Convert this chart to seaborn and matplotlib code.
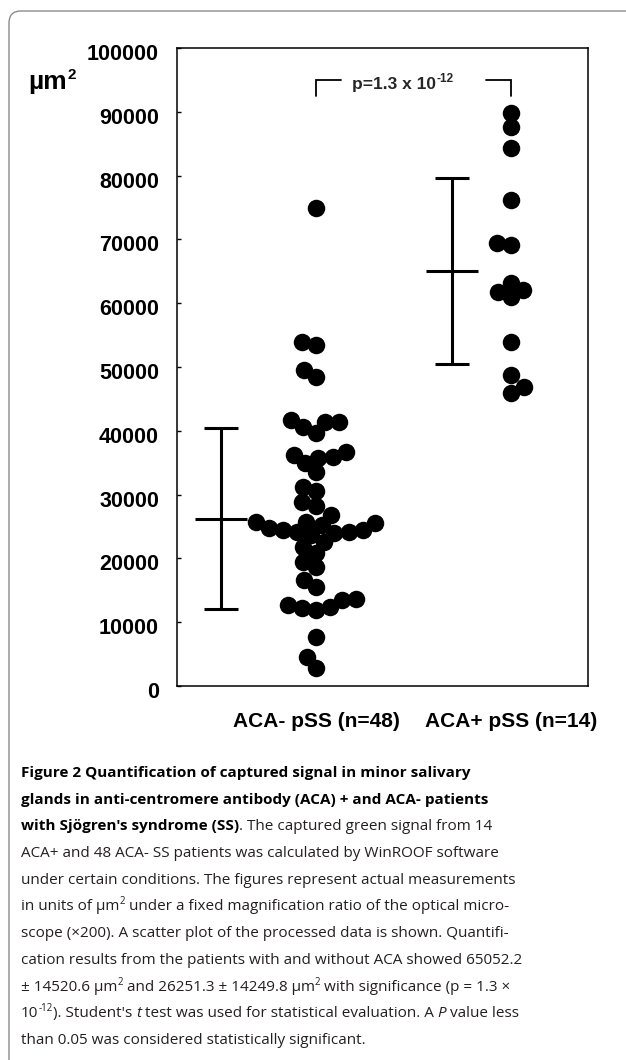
import numpy as np
import pandas as pd
import matplotlib
matplotlib.use("Agg")
import matplotlib.pyplot as plt
import seaborn as sns
from matplotlib.collections import PathCollection
from matplotlib.patches import FancyBboxPatch
from matplotlib.transforms import IdentityTransform, ScaledTranslation

# ---------------- data ----------------
categories = ["ACA- pSS (n=48)", "ACA+ pSS (n=14)"]
aca_neg = [74900, 53900, 53400, 49500, 48400,
           41700, 39700, 41400, 40600, 41400,
           35700, 36700, 35900, 34900, 36200,
           33500, 31200, 28800, 30500, 28200,
           25700, 24500, 26800, 25200, 22600, 25500, 24500,
           25700, 24000, 21800, 24800, 23700, 24100, 24100,
           20800, 18600, 16600, 19400, 15500,
           12700, 12400, 13600, 11900, 12200, 13500,
           7700, 4500, 2800]
aca_pos = [89800, 87600, 84300, 76200, 69400, 69100, 62100,
           63200, 61000, 61800, 53900, 48700, 46900, 45900]
group_mean = [26251.3, 65052.2]
group_sd = [14249.8, 14520.6]
y_ticks = [0, 10000, 20000, 30000, 40000, 50000, 60000, 70000, 80000, 90000, 100000]
y_unit = "\u00b5m"
p_text = "p=1.3 x 10"
p_exp = "-12"

caption_lines = [
    [("Figure 2 Quantification of captured signal in minor salivary", "b")],
    [("glands in anti-centromere antibody (ACA) + and ACA- patients", "b")],
    [("with Sj\u00f6gren's syndrome (SS)", "b"), (". The captured green signal from 14", "r")],
    [("ACA+ and 48 ACA- SS patients was calculated by WinROOF software", "r")],
    [("under certain conditions. The figures represent actual measurements", "r")],
    [("in units of \u00b5m", "r"), ("2", "s"), (" under a fixed magnification ratio of the optical micro-", "r")],
    [("scope (\u00d7200). A scatter plot of the processed data is shown. Quantifi-", "r")],
    [("cation results from the patients with and without ACA showed 65052.2", "r")],
    [("\u00b1 14520.6 \u00b5m", "r"), ("2", "s"), (" and 26251.3 \u00b1 14249.8 \u00b5m", "r"), ("2", "s"),
     (" with significance (p = 1.3 \u00d7", "r")],
    [("10", "r"), ("-12", "s"), ("). Student's ", "r"), ("t", "i"),
     (" test was used for statistical evaluation. A ", "r"), ("P", "i"), (" value less", "r")],
    [("than 0.05 was considered statistically significant.", "r")],
]

# ---------------- figure ----------------
sns.set_theme(style="white")
plt.rcParams["font.family"] = ["Liberation Sans", "DejaVu Sans"]

W, H = 626, 1060
fig = plt.figure(figsize=(W / 100, H / 100), dpi=100)
fig.patch.set_facecolor("white")

# outer rounded frame (open to the right / bottom)
frame = FancyBboxPatch((9, -60), 800, H - 11 + 60,
                       boxstyle="round,pad=0,rounding_size=12",
                       transform=IdentityTransform(), fill=False,
                       edgecolor="#8c8c8c", linewidth=1.0)
fig.add_artist(frame)

ax = fig.add_axes([177 / W, 1 - 686 / H, (588 - 177) / W, (686 - 48) / H])

df = pd.DataFrame({
    "group": [categories[0]] * len(aca_neg) + [categories[1]] * len(aca_pos),
    "value": aca_neg + aca_pos,
})
# swarm packed with a slightly smaller marker, then shown with the full marker
# size so neighbouring dots overlap as in the original figure
pack_size, show_size = 9.8, 12.6
sns.swarmplot(data=df, x="group", y="value", order=categories, color="black",
              size=pack_size, linewidth=0, ax=ax, warn_thresh=1)
ax.set_xlim(-0.713, 1.395)
ax.set_ylim(0, 100000)
fig.canvas.draw()
for coll in ax.collections:
    if isinstance(coll, PathCollection):
        if "draw" in coll.__dict__:
            del coll.draw
        coll.set_sizes([show_size ** 2])

eb_offsets = [-0.487, -0.303]
for i, (m, s) in enumerate(zip(group_mean, group_sd)):
    ax.errorbar(i + eb_offsets[i], m, yerr=s, fmt="_", color="black",
                ms=37, mew=2.2, elinewidth=2.2, capsize=12.2, capthick=2.2)

ax.set_xlim(-0.713, 1.395)
ax.set_ylim(0, 100000)
ax.set_xlabel("")
ax.set_ylabel("")
for sp in ax.spines.values():
    sp.set_visible(True)
    sp.set_color("black")
    sp.set_linewidth(1.1)

ax.set_yticks(y_ticks)
ax.set_yticklabels([str(v) for v in y_ticks], fontsize=15.5, fontweight="bold")
ax.tick_params(axis="y", direction="in", length=3, width=1, pad=13, colors="black", left=True)
shift = ScaledTranslation(0, -4 / 100, fig.dpi_scale_trans)
for lbl in ax.get_yticklabels():
    lbl.set_transform(lbl.get_transform() + shift)

ax.set_xticks([0, 1])
ax.set_xticklabels(categories, fontsize=15, fontweight="bold")
ax.tick_params(axis="x", length=0, pad=19, colors="black")

# significance bracket
ax.plot([0, 0, 0.13], [92500, 95000, 95000], color="black", lw=1.3, solid_joinstyle="miter")
ax.plot([0.87, 1, 1], [95000, 95000, 92500], color="black", lw=1.3, solid_joinstyle="miter")
ax.text(0.615, 94300, p_text, ha="right", va="center", fontsize=12.5, fontweight="bold")
ax.annotate(p_exp, xy=(0.615, 94300), xytext=(0.5, 4), textcoords="offset points",
            ha="left", va="center", fontsize=8.5, fontweight="bold")

# ---------------- text helpers ----------------
renderer = fig.canvas.get_renderer()


def text_width(s, **kw):
    t1 = fig.text(0, 0, "x" + s + "x", **kw)
    w1 = t1.get_window_extent(renderer).width
    t1.remove()
    t2 = fig.text(0, 0, "xx", **kw)
    w2 = t2.get_window_extent(renderer).width
    t2.remove()
    return w1 - w2


def draw_runs(x, y, parts, base, family):
    for s, style in parts:
        kw = dict(family=family, fontsize=base, color="#231f20")
        dy = 0
        if style == "b":
            kw["fontweight"] = "bold"
            kw["color"] = "black"
        elif style == "i":
            kw["fontstyle"] = "italic"
        elif style == "s":
            kw["fontsize"] = base * 0.64
            dy = -6
        fig.text(x / W, 1 - (y + dy) / H, s, va="baseline", ha="left", **kw)
        x += text_width(s, **kw)
    return x


# y-axis unit label
unit_kw = dict(family=["Liberation Sans", "DejaVu Sans"], fontsize=19, fontweight="bold", color="black")
fig.text(28 / W, 1 - 89 / H, y_unit, va="baseline", ha="left", **unit_kw)
uw = text_width(y_unit, **unit_kw)
fig.text((28 + uw + 1) / W, 1 - 79 / H, "2", va="baseline", ha="left",
         family=["Liberation Sans", "DejaVu Sans"], fontsize=11, fontweight="bold", color="black")

# caption
cap_family = ["Open Sans", "DejaVu Sans"]
for i, parts in enumerate(caption_lines):
    draw_runs(21, 777 + 26.7 * i, parts, 11.0, cap_family)

fig.savefig("out.png", dpi=100)
